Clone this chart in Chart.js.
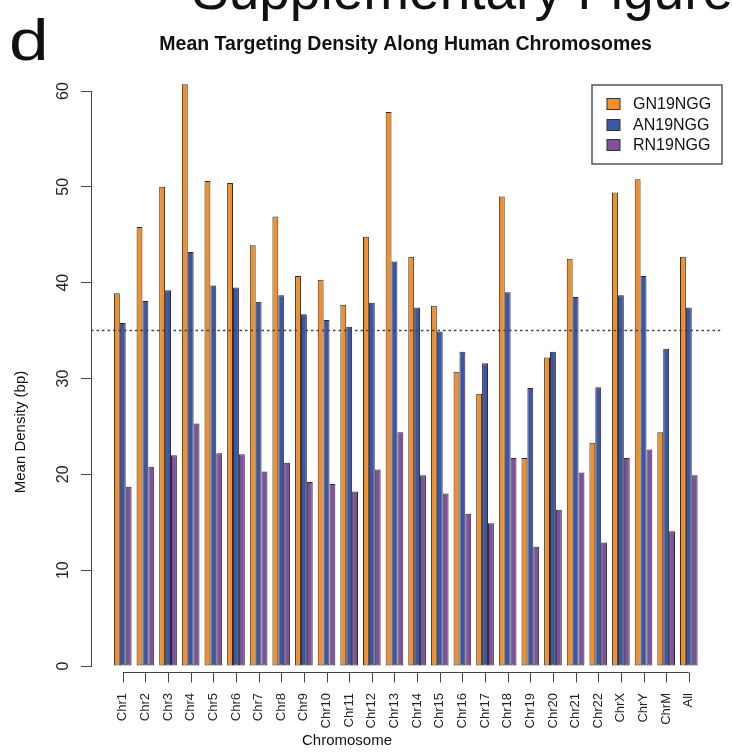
<!DOCTYPE html>
<html><head><meta charset="utf-8">
<script src="https://cdn.jsdelivr.net/npm/chart.js@4.4.1/dist/chart.umd.min.js"></script>
<style>html,body{margin:0;padding:0;background:#fff;} #wrap{width:732px;height:755px;position:relative;}</style>
</head><body><div id="wrap"><canvas id="c" width="732" height="755"></canvas></div>
<script>
const categories = ['Chr1','Chr2','Chr3','Chr4','Chr5','Chr6','Chr7','Chr8','Chr9','Chr10','Chr11','Chr12','Chr13','Chr14','Chr15','Chr16','Chr17','Chr18','Chr19','Chr20','Chr21','Chr22','ChrX','ChrY','ChrM','All'];
const seriesNames = ['GN19NGG','AN19NGG','RN19NGG'];
const gn19ngg = [38.9,45.8,50.0,60.7,50.6,50.4,43.9,46.9,40.7,40.3,37.7,44.8,57.8,42.7,37.6,30.7,28.4,49.0,21.7,32.2,42.5,23.3,49.4,50.8,24.4,42.7];
const an19ngg = [35.8,38.1,39.2,43.2,39.7,39.5,38.0,38.7,36.7,36.1,35.4,37.9,42.2,37.4,34.9,32.8,31.6,39.0,29.0,32.8,38.5,29.1,38.7,40.7,33.1,37.4];
const rn19ngg = [18.7,20.8,22.0,25.3,22.2,22.1,20.3,21.2,19.2,19.0,18.2,20.5,24.4,19.9,18.0,15.9,14.9,21.7,12.45,16.3,20.2,12.9,21.7,22.6,14.05,19.9];
const yTicks = [0,10,20,30,40,50,60];
const referenceLine = 35;
const titleText = 'Mean Targeting Density Along Human Chromosomes';
const xTitle = 'Chromosome';
const yTitle = 'Mean Density (bp)';

const colors = ['#F28F2A','#3C55A5','#7D50A0'];
const FONT = "'Liberation Sans', Arial, Helvetica, sans-serif";
Chart.defaults.font.family = FONT;

const series = [gn19ngg, an19ngg, rn19ngg];
const datasets = series.map((vals, k) => ({
  label: seriesNames[k],
  data: categories.map((c, i) => ({x: i, y: vals[i]})),
  backgroundColor: colors[k],
  borderColor: '#2a2a2a',
  borderWidth: 1,
  borderSkipped: false,
  clip: false,
  categoryPercentage: 0.78,
  barPercentage: 1.0
}));

const overlay = {
  id: 'overlay',
  afterDatasetsDraw(chart) {
    const {ctx, chartArea, scales: {x, y}} = chart;
    ctx.save();
    const yr = y.getPixelForValue(referenceLine);
    ctx.strokeStyle = '#444';
    ctx.lineWidth = 1.5;
    ctx.setLineDash([2.5, 3]);
    ctx.beginPath();
    ctx.moveTo(chartArea.left, yr);
    ctx.lineTo(chartArea.right, yr);
    ctx.stroke();
    ctx.setLineDash([]);
    const ay = chartArea.bottom + 6.5;
    ctx.lineWidth = 1;
    ctx.strokeStyle = '#444';
    ctx.beginPath();
    ctx.moveTo(x.getPixelForValue(0), ay);
    ctx.lineTo(x.getPixelForValue(categories.length - 1), ay);
    categories.forEach((c, i) => {
      const px = Math.round(x.getPixelForValue(i)) + 0.5;
      ctx.moveTo(px, ay);
      ctx.lineTo(px, ay + 10);
    });
    ctx.stroke();
    ctx.restore();
  },
  afterDraw(chart) {
    const {ctx} = chart;
    ctx.save();
    ctx.fillStyle = '#111';
    ctx.font = '15px ' + FONT;
    ctx.textAlign = 'center';
    ctx.textBaseline = 'middle';
    ctx.fillText(xTitle, 347, 741);
    ctx.save();
    ctx.translate(21, 432);
    ctx.rotate(-Math.PI / 2);
    ctx.fillText(yTitle, 0, 0);
    ctx.restore();
    const lx = 592, ly = 85, lw = 130, lh = 79;
    ctx.fillStyle = '#fff';
    ctx.fillRect(lx, ly, lw, lh);
    ctx.strokeStyle = '#555';
    ctx.lineWidth = 1.5;
    ctx.strokeRect(lx, ly, lw, lh);
    const rows = [104, 125, 145];
    chart.data.datasets.forEach((ds, k) => {
      ctx.fillStyle = ds.backgroundColor;
      ctx.fillRect(607, rows[k] - 5.5, 13, 11);
      ctx.strokeStyle = '#333';
      ctx.lineWidth = 1;
      ctx.strokeRect(607, rows[k] - 5.5, 13, 11);
      ctx.fillStyle = '#111';
      ctx.font = '16px ' + FONT;
      ctx.textAlign = 'left';
      ctx.textBaseline = 'middle';
      ctx.fillText(ds.label, 633, rows[k] + 1);
    });
    ctx.fillStyle = '#111';
    ctx.textBaseline = 'alphabetic';
    ctx.textAlign = 'left';
    ctx.font = '55px ' + FONT;
    ctx.fillText('Supplementary Figure', 192, 9);
    ctx.save();
    ctx.translate(9, 60);
    ctx.scale(1.25, 1);
    ctx.font = '57px ' + FONT;
    ctx.fillText('d', 0, 0);
    ctx.restore();
    ctx.restore();
  }
};

const spacing = (690.5 - 122.85) / (categories.length - 1);
const left = 91, right = 722;
const xMin = -(122.85 - left) / spacing;
const xMax = xMin + (right - left) / spacing;

new Chart(document.getElementById('c').getContext('2d'), {
  type: 'bar',
  data: {datasets},
  options: {
    responsive: false,
    animation: false,
    devicePixelRatio: 1,
    layout: {padding: {left: 0, right: 732 - right, top: 0, bottom: 0}},
    plugins: {
      legend: {display: false},
      tooltip: {enabled: false},
      title: {
        display: true, text: titleText, fullSize: false,
        color: '#111', font: {size: 19.5, weight: 'bold'},
        padding: {top: 33.3, bottom: 34.3}
      }
    },
    scales: {
      x: {
        type: 'linear', min: xMin, max: xMax, offset: false,
        grid: {display: false, drawTicks: false},
        border: {display: false},
        afterBuildTicks: s => { s.ticks = categories.map((c, i) => ({value: i})); },
        afterFit: s => { s.height = 755 - 666; },
        ticks: {
          autoSkip: false, minRotation: 90, maxRotation: 90, padding: 27,
          font: {size: 13}, color: '#222',
          callback: (v) => categories[v] !== undefined ? categories[v] : ''
        }
      },
      y: {
        min: 0, max: 60,
        afterBuildTicks: s => { s.ticks = yTicks.map(v => ({value: v})); },
        afterFit: s => { s.width = left; },
        ticks: {
          minRotation: 90, maxRotation: 90, crossAlign: 'center', padding: 9,
          font: {size: 16}, color: '#222'
        },
        grid: {drawOnChartArea: false, drawTicks: true, tickLength: 10, color: '#444'},
        border: {display: true, color: '#444', width: 1}
      }
    }
  },
  plugins: [overlay]
});
</script>
</body></html>
